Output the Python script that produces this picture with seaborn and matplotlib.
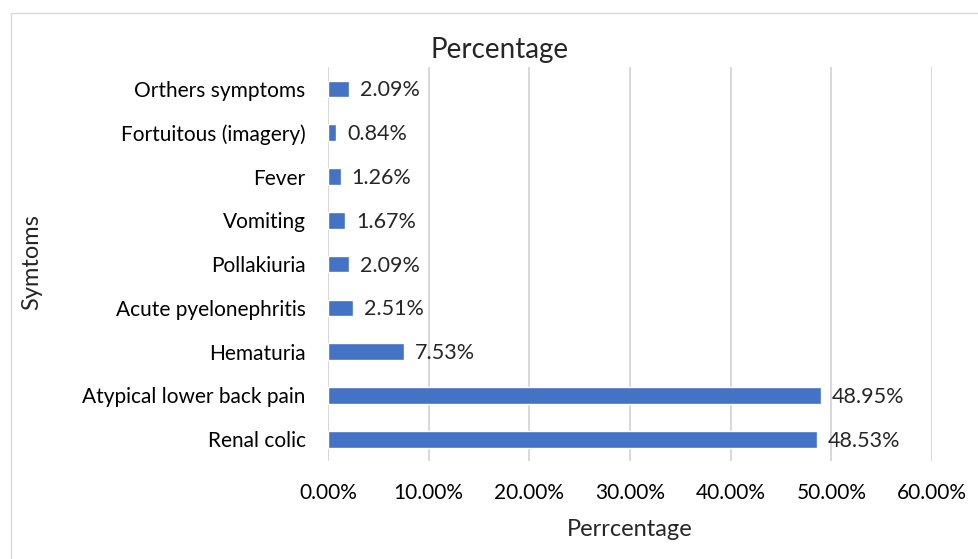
import matplotlib
matplotlib.use('Agg')
import matplotlib.pyplot as plt
import seaborn as sns
import pandas as pd
from matplotlib.patches import Rectangle
from matplotlib.ticker import FuncFormatter

symptoms = ['Orthers symptoms', 'Fortuitous (imagery)', 'Fever', 'Vomiting',
            'Pollakiuria', 'Acute pyelonephritis', 'Hematuria',
            'Atypical lower back pain', 'Renal colic']
percent = [2.09, 0.84, 1.26, 1.67, 2.09, 2.51, 7.53, 48.95, 48.53]
xticks = [0, 10, 20, 30, 40, 50, 60]

sns.set_style('white')
plt.rcParams['font.family'] = ['Lato', 'DejaVu Sans']

df = pd.DataFrame({'Symtoms': symptoms, 'Percentage': percent})

fig = plt.figure(figsize=(9.79, 5.59), dpi=100)
ax = fig.add_axes([0.335, 0.175, 0.617, 0.705])
sns.barplot(data=df, x='Percentage', y='Symtoms', orient='h', color='#4472C4',
            width=0.38, saturation=1, ax=ax, zorder=3)

ax.set_xlim(0, 60)
ax.set_xticks(xticks)
ax.xaxis.set_major_formatter(FuncFormatter(lambda v, p: '%.2f%%' % v))
ax.grid(axis='x', color='#d9d9d9', linewidth=1.5, zorder=0)
ax.set_axisbelow(True)
for s in ax.spines.values():
    s.set_visible(False)
ax.tick_params(axis='both', length=0, labelsize=15, colors='#000000')
ax.tick_params(axis='x', pad=16)
ax.tick_params(axis='y', pad=16)
ax.axvline(0, color='#d9d9d9', linewidth=1.5, zorder=1)

for i, v in enumerate(percent):
    ax.annotate('%.2f%%' % v, (v, i), xytext=(8, -1), textcoords='offset points',
                va='center', ha='left', fontsize=15.5)

ax.set_xlabel('Perrcentage', fontsize=17, labelpad=11)
ax.set_ylabel('')
fig.text(500 / 979, 1 - 50 / 559, 'Percentage', fontsize=20, ha='center', va='center')
fig.text(32 / 979, 1 - 262 / 559, 'Symtoms', fontsize=17, rotation=90,
         ha='center', va='center')

fig.patches.append(Rectangle((11 / 979, -0.01), 1.1, 1 - 13 / 559 + 0.01,
                             transform=fig.transFigure, fill=False,
                             edgecolor='#d9d9d9', linewidth=1))

plt.savefig('out.png', dpi=100)
